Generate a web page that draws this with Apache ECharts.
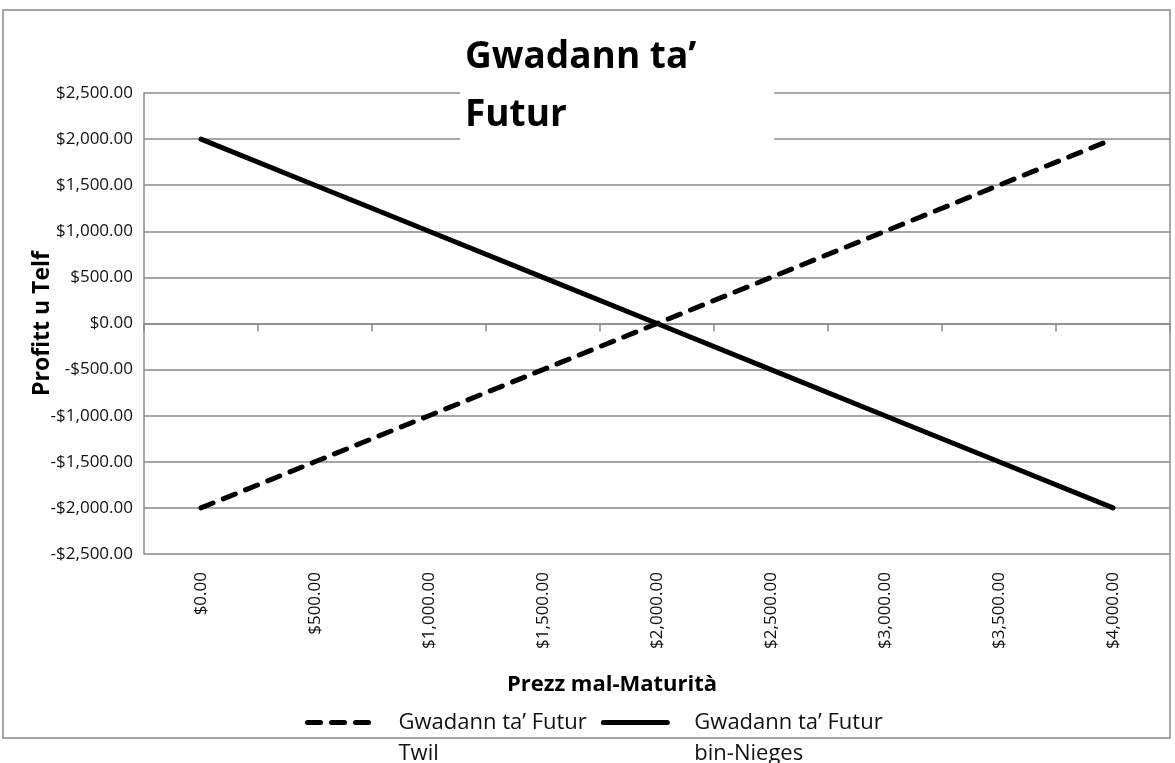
<!DOCTYPE html>
<html>
<head>
<meta charset="utf-8">
<script src="https://cdn.jsdelivr.net/npm/echarts@6/dist/echarts.min.js"></script>
<style>
  html, body { margin: 0; padding: 0; background: #fff; }
  #main { width: 1175px; height: 763px; }
</style>
</head>
<body>
<div id="main"></div>
<script>
// prices at maturity (x categories)
const prices = [0, 500, 1000, 1500, 2000, 2500, 3000, 3500, 4000]
// profit / loss for each position
const longFuture = [-2000, -1500, -1000, -500, 0, 500, 1000, 1500, 2000]
const shortFuture = [2000, 1500, 1000, 500, 0, -500, -1000, -1500, -2000]
const seriesNames = ['Gwadann ta\u2019 Futur Twil', 'Gwadann ta\u2019 Futur bin-Nieges']

const font = '"Open Sans", "Noto Sans", sans-serif'
const grey = '#8a8a8a'

const money = (v) => {
  const s = '$' + Math.abs(v).toLocaleString('en-US', { minimumFractionDigits: 2, maximumFractionDigits: 2 })
  return v < 0 ? '-' + s : s
}

const priceLabels = prices.map(money)

const myChart = echarts.init(document.getElementById('main'))

// legend text: blank first line keeps the icon level with the first text line
const legendText = (name) => {
  const i = name.indexOf('Futur') + 5
  return '{s| }\n{s| }' + name.slice(0, i) + '\n{s| }' + name.slice(i + 1)
}

const options = {
  backgroundColor: '#fff',
  animation: false,
  textStyle: { fontFamily: font },
  title: {
    text: 'Gwadann ta\u2019\nFutur',
    left: 460,
    top: 22,
    padding: [6, 78, 8, 5],
    backgroundColor: '#fff',
    textStyle: {
      fontFamily: font,
      fontSize: 37,
      fontWeight: 'bold',
      color: '#000',
      lineHeight: 58
    }
  },
  legend: {
    left: 300,
    top: 671,
    itemWidth: 64,
    itemHeight: 14,
    itemGap: 14,
    selectedMode: false,
    itemStyle: { opacity: 0 },
    lineStyle: { width: 5 },
    textStyle: {
      fontFamily: font,
      fontSize: 22,
      color: '#111',
      lineHeight: 31,
      rich: {
        s: { width: 22, lineHeight: 31, fontSize: 22 }
      }
    },
    formatter: legendText
  },
  grid: {
    left: 144,
    right: 5,
    top: 93,
    bottom: 209,
    containLabel: false
  },
  xAxis: [
    {
      type: 'category',
      data: priceLabels,
      position: 'bottom',
      boundaryGap: true,
      axisLine: { show: false, onZero: false },
      axisTick: { show: false },
      axisLabel: {
        rotate: 90,
        margin: 18,
        fontSize: 17,
        color: '#111',
        fontFamily: font
      },
      name: 'Prezz mal-Maturit\u00e0',
      nameLocation: 'middle',
      nameGap: 120,
      nameMoveOverlap: false,
      nameTextStyle: {
        fontFamily: font,
        fontSize: 22,
        fontWeight: 'bold',
        color: '#000',
        padding: [0, 90, 0, 0]
      }
    },
    {
      type: 'category',
      data: priceLabels,
      position: 'bottom',
      boundaryGap: true,
      axisLine: { show: true, onZero: true, lineStyle: { color: grey, width: 1.5 } },
      axisTick: { show: true, length: 8, lineStyle: { color: grey, width: 1.5 } },
      axisLabel: { show: false }
    }
  ],
  yAxis: {
    type: 'value',
    min: -2500,
    max: 2500,
    interval: 500,
    axisLine: { show: true, lineStyle: { color: grey, width: 1.5 } },
    axisTick: { show: false },
    axisLabel: {
      formatter: money,
      fontSize: 17,
      margin: 11,
      color: '#111',
      fontFamily: font
    },
    splitLine: { show: true, lineStyle: { color: grey, width: 1.5 } },
    name: 'Profitt u Telf',
    nameLocation: 'middle',
    nameGap: 90,
    nameMoveOverlap: false,
    nameRotate: 90,
    nameTextStyle: {
      fontFamily: font,
      fontSize: 23,
      fontWeight: 'bold',
      color: '#000'
    }
  },
  graphic: [
    {
      type: 'rect',
      z: -10,
      silent: true,
      shape: { x: 3, y: 10, width: 1167, height: 728 },
      style: { fill: 'none', stroke: grey, lineWidth: 1.5 }
    }
  ],
  series: [
    {
      name: seriesNames[0],
      type: 'line',
      xAxisIndex: 0,
      data: longFuture,
      symbol: 'none',
      lineStyle: { color: '#000', width: 5, type: [13, 11], cap: 'round' },
      itemStyle: { color: '#000' }
    },
    {
      name: seriesNames[1],
      type: 'line',
      xAxisIndex: 0,
      data: shortFuture,
      symbol: 'none',
      lineStyle: { color: '#000', width: 5, cap: 'round' },
      itemStyle: { color: '#000' }
    }
  ]
}

myChart.setOption(options)
</script>
</body>
</html>
